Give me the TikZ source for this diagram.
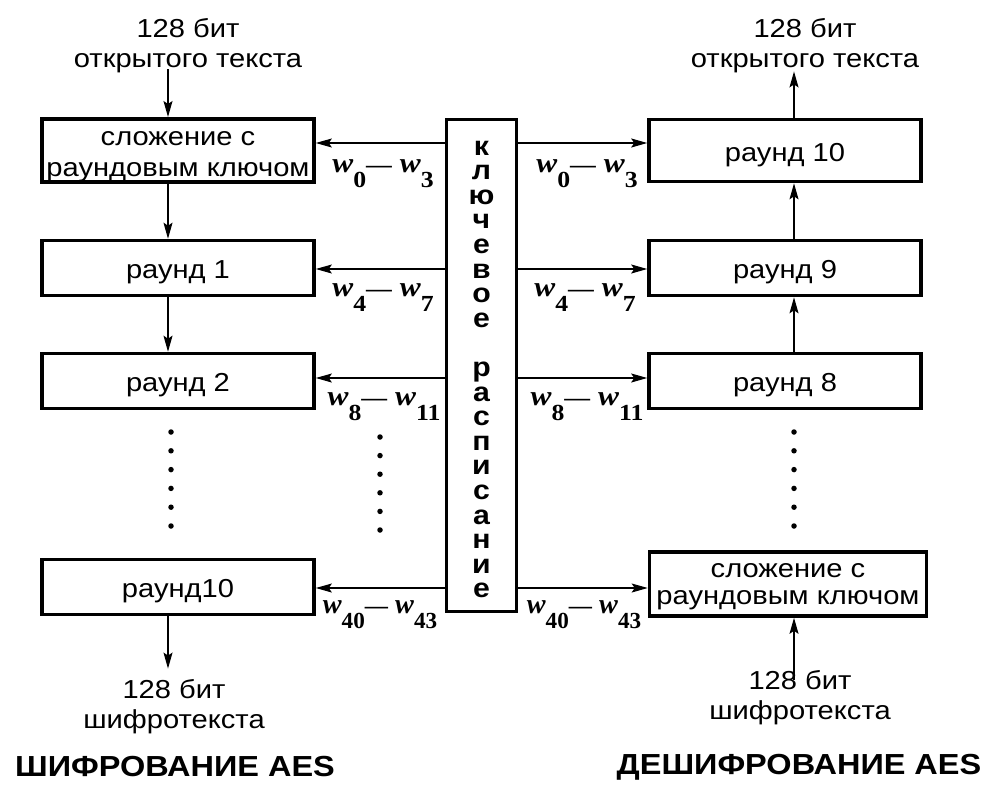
\documentclass[tikz,border=0pt]{standalone}
\usepackage{fontspec}
\setmainfont{Liberation Sans}[FakeStretch=1.12]
\newfontfamily\wser{Liberation Serif}[FakeStretch=1.12]
\usetikzlibrary{arrows.meta}
\newcommand\wsub[1]{\raisebox{-15pt}{\fontsize{23}{23}\selectfont #1}}
\newcommand\wl[2]{{\wser\bfseries\fontsize{28}{28}\selectfont\textit{w}\wsub{#1}{\fontsize{23}{23}\selectfont —}\ \textit{w}\wsub{#2}}}
\begin{document}
\begin{tikzpicture}[x=1pt,y=-1pt,
  box/.style={draw, line width=3.6pt, minimum width=272pt, minimum height=55pt, inner sep=0pt,
    font=\fontsize{26}{31}\selectfont, align=center, text height=27pt},
  arr/.style={line width=1.3pt, -{Stealth[length=16pt,width=9pt,inset=3pt]}},
  txt/.style={font=\fontsize{26}{30}\selectfont, align=center, inner sep=0pt},
  dot/.style={circle, fill, inner sep=0pt, minimum size=5.5pt},
  wlab/.style={inner sep=0pt, anchor=base},
  ttl/.style={font=\bfseries\fontsize{29}{30}\selectfont, inner sep=0pt}]
\useasboundingbox (0,0) rectangle (990,784);
% left column
\node[box, minimum height=62pt, text height=58pt] (L0) at (178,150.5) {сложение с\\раундовым ключом};
\node[box] (L1) at (178,268) {раунд 1};
\node[box] (L2) at (178,381) {раунд 2};
\node[box] (L10) at (178,587) {раунд10};
% right column
\node[box, minimum height=62pt] (R10) at (785,150.5) {раунд 10};
\node[box] (R9) at (785,268) {раунд 9};
\node[box] (R8) at (785,381) {раунд 8};
\node[box, minimum height=64pt, minimum width=277pt, font=\fontsize{26}{27}\selectfont, text height=46pt] (R0) at (788,584) {сложение с\\раундовым ключом};
% key schedule
\node[draw, line width=3.6pt, minimum width=70pt, minimum height=492pt, inner sep=0pt,
  font=\bfseries\fontsize{27}{24.6}\selectfont, align=center, text height=465pt] (K) at (481.5,365.5)
  {к\\л\\ю\\ч\\е\\в\\о\\е\\[24.6pt]р\\а\\с\\п\\и\\с\\а\\н\\и\\е};
% texts
\node[txt] (inL) at (188,46) {128 бит\\открытого текста};
\node[txt] (outR) at (805,46) {128 бит\\открытого текста};
\node[txt] (outL) at (174,707) {128 бит\\шифротекста};
\node[txt] (inR) at (800,698) {128 бит\\шифротекста};
\node[ttl] (TL) at (175,767) {ШИФРОВАНИЕ AES};
\node[ttl] (TR) at (799,767) {ДЕШИФРОВАНИЕ AES};
% vertical arrows
\coordinate (lx) at (168,0);
\coordinate (rx) at (794,0);
\draw[arr, shorten <=-4pt] (inL.south -| lx) -- (L0.north -| lx);
\draw[arr] (L0.south -| lx) -- (L1.north -| lx);
\draw[arr] (L1.south -| lx) -- (L2.north -| lx);
\draw[arr, shorten >=11pt] (L10.south -| lx) -- (outL.north -| lx);
\draw[arr, shorten >=-2pt] (R10.north -| rx) -- (outR.south -| rx);
\draw[arr] (R9.north -| rx) -- (R10.south -| rx);
\draw[arr] (R8.north -| rx) -- (R9.south -| rx);
\draw[arr, shorten <=-9pt] (inR.north -| rx) -- (R0.south -| rx);
% horizontal arrows
\coordinate (y0) at (0,143);
\coordinate (y1) at (0,269);
\coordinate (y2) at (0,378);
\coordinate (y3) at (0,588);
\draw[arr] (K.west |- y0) -- (L0.east |- y0);
\draw[arr] (K.west |- y1) -- (L1.east |- y1);
\draw[arr] (K.west |- y2) -- (L2.east |- y2);
\draw[arr] (K.west |- y3) -- (L10.east |- y3);
\draw[arr] (K.east |- y0) -- (R10.west |- y0);
\draw[arr] (K.east |- y1) -- (R9.west |- y1);
\draw[arr] (K.east |- y2) -- (R8.west |- y2);
\draw[arr] (K.east |- y3) -- (R0.west |- y3);
% labels
\node[wlab] (la0) at (383,172) {\wl{0}{3}};
\node[wlab] (la1) at (383,296) {\wl{4}{7}};
\node[wlab] (la2) at (384,405) {\wl{8}{11}};
\node[wlab] (la3) at (380,613) {\scalebox{0.9}[1]{\wl{40}{43}}};
\node[wlab] (ra0) at (587,172) {\wl{0}{3}};
\node[wlab] (ra1) at (585,296) {\wl{4}{7}};
\node[wlab] (ra2) at (587,405) {\wl{8}{11}};
\node[wlab] (ra3) at (584,613) {\scalebox{0.9}[1]{\wl{40}{43}}};
% dots
\foreach \i in {0,...,5} {
  \node[dot] (dl\i) at (171,{432+\i*18.8}) {};
  \node[dot] (dm\i) at (380,{437+\i*18.6}) {};
  \node[dot] (dr\i) at (794,{432+\i*18.8}) {};
}
\end{tikzpicture}
\end{document}
